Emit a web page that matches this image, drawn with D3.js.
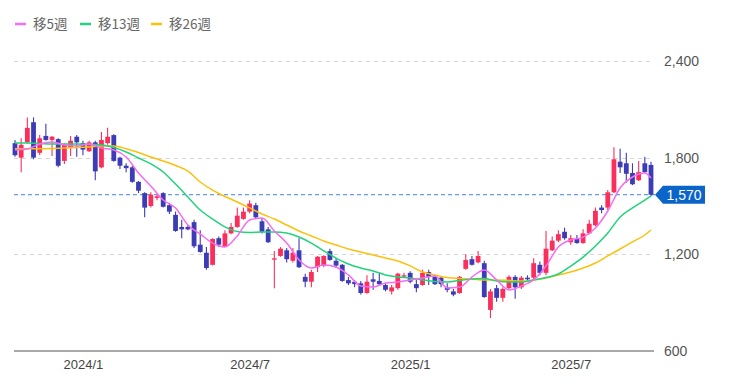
<!DOCTYPE html>
<html>
<head>
<meta charset="utf-8">
<script src="https://cdn.jsdelivr.net/npm/d3@7"></script>
<style>
body { margin: 0; background: #fff; }
</style>
</head>
<body>
<div id="viz"></div>
<script>
// weekly candles, oldest first
var opens = [1890, 1800, 1895, 2020, 1830, 1935, 1910, 1915, 1780, 1865,
    1930, 1890, 1840, 1895, 1740, 1890, 1940, 1800, 1750, 1740,
    1650, 1580, 1500, 1550, 1580, 1505, 1445, 1370, 1370, 1400,
    1260, 1210, 1135, 1300, 1245, 1330, 1370, 1420, 1465, 1505,
    1405, 1355, 1170, 1190, 1225, 1160, 1225, 1060, 1030, 1120,
    1130, 1220, 1160, 1135, 1040, 1030, 1020, 960, 1045, 1035,
    1010, 970, 990, 1065, 1085, 1015, 1010, 1090, 1060, 1055,
    995, 970, 960, 1110, 1170, 1150, 1145, 855, 990, 930,
    990, 1060, 995, 1055, 1055, 1135, 1085, 1225, 1285, 1340,
    1275, 1295, 1270, 1330, 1380, 1490, 1490, 1585, 1775, 1765,
    1705, 1660, 1765, 1755];
var highs = [1910, 1920, 2050, 2050, 1940, 2010, 1935, 1920, 1890, 1935,
    1940, 1905, 1905, 1905, 1960, 1985, 1945, 1805, 1765, 1750,
    1655, 1585, 1585, 1570, 1585, 1520, 1465, 1415, 1380, 1415,
    1350, 1245, 1300, 1310, 1350, 1395, 1490, 1490, 1535, 1520,
    1425, 1370, 1220, 1245, 1240, 1240, 1300, 1080, 1105, 1190,
    1195, 1235, 1175, 1140, 1060, 1040, 1035, 1070, 1085, 1085,
    1020, 1010, 1085, 1085, 1095, 1040, 1105, 1105, 1070, 1065,
    1020, 985, 1065, 1200, 1190, 1220, 1160, 985, 1010, 995,
    1070, 1070, 1065, 1070, 1175, 1155, 1345, 1310, 1350, 1365,
    1320, 1320, 1355, 1415, 1490, 1505, 1600, 1865, 1855, 1830,
    1765, 1780, 1805, 1775];
var lows = [1805, 1710, 1890, 1790, 1815, 1905, 1810, 1740, 1760, 1810,
    1805, 1815, 1835, 1660, 1735, 1880, 1775, 1730, 1710, 1645,
    1580, 1430, 1490, 1535, 1490, 1450, 1340, 1300, 1350, 1240,
    1210, 1105, 1130, 1245, 1245, 1325, 1365, 1415, 1455, 1425,
    1330, 1270, 990, 1185, 1150, 1150, 1115, 995, 995, 1090,
    1120, 1160, 1115, 1030, 1010, 995, 950, 955, 980, 1010,
    970, 950, 980, 1060, 1020, 965, 1005, 1010, 1010, 995,
    965, 940, 955, 1105, 1130, 1145, 930, 805, 905, 905,
    985, 925, 985, 1030, 1045, 1070, 1070, 1220, 1275, 1290,
    1260, 1265, 1265, 1325, 1375, 1455, 1475, 1580, 1705, 1645,
    1630, 1655, 1705, 1560];
var closes = [1815, 1880, 1985, 1800, 1920, 1910, 1930, 1750, 1880, 1905,
    1895, 1850, 1895, 1715, 1910, 1930, 1780, 1750, 1735, 1650,
    1595, 1490, 1570, 1560, 1495, 1465, 1345, 1355, 1355, 1250,
    1215, 1115, 1295, 1260, 1330, 1370, 1440, 1465, 1515, 1430,
    1340, 1275, 1175, 1235, 1170, 1210, 1120, 1030, 1090, 1185,
    1190, 1165, 1130, 1035, 1020, 1015, 960, 1030, 1030, 1015,
    980, 995, 1080, 1070, 1030, 990, 1085, 1060, 1015, 1015,
    980, 950, 1060, 1165, 1135, 1190, 935, 970, 930, 985,
    1060, 995, 1055, 1045, 1145, 1085, 1235, 1285, 1325, 1300,
    1300, 1270, 1330, 1390, 1470, 1475, 1585, 1790, 1740, 1700,
    1635, 1710, 1710, 1570];

// moving averages, every other week
var maWeeks = [0, 2, 4, 6, 8, 10, 12, 14, 16, 18, 20, 22, 24, 26, 28, 30, 32, 34, 36, 38,
    40, 42, 44, 46, 48, 50, 52, 54, 56, 58, 60, 62, 64, 66, 68, 70, 72, 74, 76, 78,
    80, 82, 84, 86, 88, 90, 92, 94, 96, 98, 100, 102, 103];
var ma5 = [1848, 1854, 1885, 1897, 1879, 1872, 1885, 1860, 1848, 1804, 1705, 1624, 1537, 1487, 1382, 1326, 1270, 1246, 1314, 1413,
    1425, 1345, 1270, 1165, 1115, 1134, 1121, 1072, 1003, 997, 1022, 1028, 1041, 1053, 1065, 991, 997, 1059, 1103, 1041,
    979, 1003, 1041, 1128, 1246, 1289, 1307, 1363, 1469, 1612, 1680, 1705, 1674];
var ma13 = [1891, 1891, 1888, 1885, 1885, 1885, 1882, 1879, 1863, 1835, 1798, 1761, 1711, 1636, 1556, 1475, 1419, 1370, 1342, 1336,
    1339, 1339, 1332, 1308, 1270, 1221, 1177, 1140, 1115, 1097, 1072, 1059, 1053, 1041, 1031, 1028, 1038, 1047, 1050, 1034,
    1028, 1028, 1041, 1056, 1078, 1127, 1183, 1252, 1332, 1432, 1488, 1537, 1562];
var ma26 = [1855, 1855, 1855, 1857, 1860, 1863, 1866, 1872, 1872, 1855, 1832, 1804, 1779, 1751, 1717, 1649, 1599, 1559, 1525, 1488,
    1450, 1419, 1382, 1345, 1314, 1283, 1258, 1233, 1214, 1196, 1177, 1159, 1128, 1090, 1072, 1056, 1050, 1047, 1041, 1041,
    1038, 1034, 1041, 1053, 1072, 1090, 1115, 1146, 1190, 1233, 1277, 1320, 1351];

var yTicks = [600, 1200, 1800, 2400];
var xTickWeeks = [11, 38, 64, 90];
var xTickLabels = ["2024/1", "2024/7", "2025/1", "2025/7"];
var lastPrice = 1570;
var legendNames = ["移5週", "移13週", "移26週"];

var upColor = "#fb2f5b";
var downColor = "#3c3cb6";
var maColors = ["#f76cf2", "#1fd47c", "#fcc10c"];
var labelFont = "'Liberation Sans', Arial, sans-serif";

var W = 732, H = 390;
var svg = d3.select("#viz").append("svg")
    .attr("width", W)
    .attr("height", H);

var n = closes.length;
var x = d3.scaleLinear().domain([0, n - 1]).range([15, 651]);
var y = d3.scaleLinear().domain([600, 2400]).range([351, 61]);
var bw = 4.8;

// grid
svg.append("g").selectAll("line")
    .data(yTicks.filter(function(t){ return t > 600; }))
    .enter().append("line")
    .attr("x1", 14).attr("x2", 653)
    .attr("y1", function(d){ return Math.round(y(d)) + 0.5; })
    .attr("y2", function(d){ return Math.round(y(d)) + 0.5; })
    .style("stroke", "#d6d6d6")
    .style("stroke-dasharray", "4,4");

// y labels
svg.append("g").selectAll("text")
    .data(yTicks)
    .enter().append("text")
    .attr("x", 664)
    .attr("y", function(d){ return y(d); })
    .attr("dy", "0.36em")
    .style("font-family", labelFont)
    .style("font-size", "14px")
    .style("fill", "#555")
    .text(function(d){ return d3.format(",")(d); });

// bottom axis
var xAxis = d3.axisBottom(x)
    .tickValues(xTickWeeks)
    .tickSize(0)
    .tickPadding(9)
    .tickFormat(function(d, i){ return xTickLabels[i]; });
var gx = svg.append("g")
    .attr("transform", "translate(0," + y(600) + ")")
    .call(xAxis);
gx.select(".domain").remove();
gx.selectAll("text")
    .style("font-family", labelFont)
    .style("font-size", "13px")
    .style("fill", "#444");
svg.append("line")
    .attr("x1", 14).attr("x2", 654)
    .attr("y1", y(600)).attr("y2", y(600))
    .style("stroke", "#555")
    .style("stroke-width", 1.2);

// last price line
svg.append("line")
    .attr("x1", 14).attr("x2", 655)
    .attr("y1", y(lastPrice)).attr("y2", y(lastPrice))
    .style("stroke", "#3f86dc")
    .style("stroke-dasharray", "4,3");

// candles
var idx = d3.range(n);
var candle = svg.append("g").selectAll("g")
    .data(idx)
    .enter().append("g");
candle.append("line")
    .attr("x1", function(i){ return x(i); })
    .attr("x2", function(i){ return x(i); })
    .attr("y1", function(i){ return y(highs[i]); })
    .attr("y2", function(i){ return y(lows[i]); })
    .style("stroke", function(i){ return closes[i] >= opens[i] ? upColor : downColor; })
    .style("stroke-width", 1.1);
candle.append("rect")
    .attr("x", function(i){ return x(i) - bw / 2; })
    .attr("y", function(i){ return y(Math.max(opens[i], closes[i])); })
    .attr("width", bw)
    .attr("height", function(i){ return Math.max(1.3, Math.abs(y(opens[i]) - y(closes[i]))); })
    .style("fill", function(i){ return closes[i] >= opens[i] ? upColor : downColor; });

// moving averages
var mas = [ma26, ma13, ma5];
var masColors = [maColors[2], maColors[1], maColors[0]];
var line = d3.line()
    .x(function(d){ return x(d[0]); })
    .y(function(d){ return y(d[1]); })
    .curve(d3.curveMonotoneX);
mas.forEach(function(ma, k){
    svg.append("path")
        .datum(maWeeks.map(function(w, j){ return [w, ma[j]]; }))
        .attr("d", line)
        .style("fill", "none")
        .style("stroke", masColors[k])
        .style("stroke-width", 1.5);
});

// price tag
var py = y(lastPrice);
svg.append("path")
    .attr("d", "M655," + py + "L663," + (py - 9) + "L705," + (py - 9) +
        "L705," + (py + 9) + "L663," + (py + 9) + "Z")
    .style("fill", "#0b64c8");
svg.append("text")
    .attr("x", 684)
    .attr("y", py)
    .attr("dy", "0.36em")
    .attr("text-anchor", "middle")
    .style("font-family", labelFont)
    .style("font-size", "14px")
    .style("fill", "#fff")
    .text(d3.format(",")(lastPrice));

// legend
var legX = [15, 80, 151];
var leg = svg.append("g").selectAll("g")
    .data(legendNames)
    .enter().append("g")
    .attr("transform", function(d, i){ return "translate(" + legX[i] + ",24)"; });
leg.append("line")
    .attr("x1", 0).attr("x2", 11)
    .style("stroke", function(d, i){ return maColors[i]; })
    .style("stroke-width", 2.5);
leg.append("text")
    .attr("x", 18)
    .attr("dy", "0.36em")
    .style("font-family", "'Noto Sans CJK JP', sans-serif")
    .style("font-size", "13.5px")
    .style("fill", "#666")
    .text(function(d){ return d; });
</script>
</body>
</html>
